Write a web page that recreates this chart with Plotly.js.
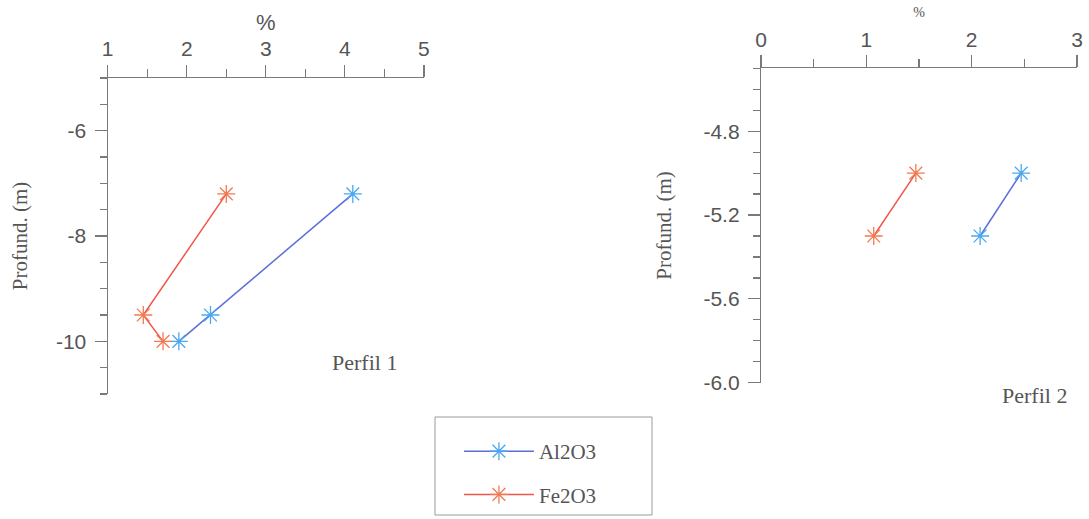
<!DOCTYPE html>
<html>
<head>
<meta charset="utf-8">
<script src="https://cdn.plot.ly/plotly-3.0.1.min.js"></script>
<style>html,body{margin:0;padding:0;background:#fff;}#chart{width:1089px;height:519px;}</style>
</head>
<body>
<div id="chart"></div>
<script>
// Perfil 1
const p1_al2o3_x = [4.1, 2.3, 1.9];
const p1_al2o3_y = [-7.2, -9.5, -10.0];
const p1_fe2o3_x = [2.5, 1.45, 1.7];
const p1_fe2o3_y = [-7.2, -9.5, -10.0];
// Perfil 2
const p2_al2o3_x = [2.47, 2.08];
const p2_al2o3_y = [-5.0, -5.3];
const p2_fe2o3_x = [1.47, 1.07];
const p2_fe2o3_y = [-5.0, -5.3];

const seriesNames = ["Al2O3", "Fe2O3"];
const panelLabels = ["Perfil 1", "Perfil 2"];
const xTitle = "%";
const yTitle = "Profund. (m)";
const p1_yTickVals = [-6, -8, -10];
const p1_yTickText = ["-6", "-8", "-10"];
const p2_yTickVals = [-4.8, -5.2, -5.6, -6.0];
const p2_yTickText = ["-4.8", "-5.2", "-5.6", "-6.0"];

const blueLine = "#5a6fd8", blueMark = "#4aa8f0";
const redLine = "#f0564a", redMark = "#f27a52";
const axisCol = "#7a7a7a", textCol = "#555555";
const sans = "Liberation Sans, Arial, sans-serif";
const serif = "Liberation Serif, Times New Roman, serif";

function tr(x, y, name, lc, mc, xa, ya, show) {
  return {
    x: x, y: y, name: name, type: "scatter", mode: "lines+markers",
    xaxis: xa, yaxis: ya, showlegend: show, legendgroup: name,
    line: {color: lc, width: 1.5},
    marker: {symbol: "asterisk-open", size: 15, color: mc, line: {color: mc, width: 1.3}}
  };
}

const data = [
  tr(p1_al2o3_x, p1_al2o3_y, seriesNames[0], blueLine, blueMark, "x", "y", true),
  tr(p1_fe2o3_x, p1_fe2o3_y, seriesNames[1], redLine, redMark, "x", "y", true),
  tr(p2_al2o3_x, p2_al2o3_y, seriesNames[0], blueLine, blueMark, "x2", "y2", false),
  tr(p2_fe2o3_x, p2_fe2o3_y, seriesNames[1], redLine, redMark, "x2", "y2", false)
];

function xax(domain, anchor, range, titleSize, titleFont, standoff) {
  return {
    domain: domain, anchor: anchor, side: "top", range: range, dtick: 1,
    showline: true, linecolor: axisCol, linewidth: 1.2, showgrid: false, zeroline: false,
    ticks: "outside", ticklen: 12, tickcolor: axisCol, tickwidth: 1.2,
    minor: {dtick: 0.5, ticks: "outside", ticklen: 8, tickcolor: axisCol, tickwidth: 1.2, showgrid: false},
    tickfont: {family: sans, size: 21, color: textCol},
    title: {text: xTitle, font: {family: titleFont, size: titleSize, color: textCol}, standoff: standoff}
  };
}
function yax(domain, anchor, range, tickvals, ticktext, mdtick, standoff) {
  return {
    domain: domain, anchor: anchor, range: range, tickmode: "array", tickvals: tickvals, ticktext: ticktext,
    showline: true, linecolor: axisCol, linewidth: 1.2, showgrid: false, zeroline: false,
    ticks: "outside", ticklen: 12, tickcolor: axisCol, tickwidth: 1.2, ticklabelstandoff: 4,
    minor: {tickmode: "linear", tick0: 0, dtick: mdtick, ticks: "outside", ticklen: 7, tickcolor: axisCol, tickwidth: 1.2, showgrid: false},
    tickfont: {family: sans, size: 21, color: textCol},
    title: {text: yTitle, font: {family: serif, size: 21, color: textCol}, standoff: standoff}
  };
}

const layout = {
  width: 1089, height: 519,
  margin: {l: 0, r: 0, t: 0, b: 0},
  paper_bgcolor: "#ffffff", plot_bgcolor: "#ffffff",
  xaxis: xax([0.0989, 0.3893], "y", [1, 5], 22, sans, 0),
  yaxis: yax([0.2408, 0.8497], "x", [-11, -5], p1_yTickVals, p1_yTickText, 0.5, 22),
  xaxis2: xax([0.6988, 0.989], "y2", [0, 3], 14, serif, 6),
  yaxis2: yax([0.2626, 0.8684], "x2", [-6.0, -4.5], p2_yTickVals, p2_yTickText, 0.1, 26),
  showlegend: true,
  legend: {
    x: 0.3994, y: 0.1696, xanchor: "left", yanchor: "top",
    bgcolor: "rgba(0,0,0,0)", borderwidth: 0,
    font: {family: serif, size: 21, color: textCol},
    itemwidth: 70, tracegroupgap: 13, indentation: 24
  },
  shapes: [
    {type: "rect", xref: "paper", yref: "paper", x0: 435 / 1089, x1: 652 / 1089, y0: 1 - 515 / 519, y1: 1 - 417 / 519,
     line: {color: "#9a9a9a", width: 1}, fillcolor: "rgba(0,0,0,0)", layer: "below"}
  ],
  annotations: [
    {text: panelLabels[0], xref: "paper", yref: "paper", x: 0.3343, y: 0.3025, xanchor: "center", yanchor: "middle",
     showarrow: false, font: {family: serif, size: 22, color: textCol}},
    {text: panelLabels[1], xref: "paper", yref: "paper", x: 0.9504, y: 0.2389, xanchor: "center", yanchor: "middle",
     showarrow: false, font: {family: serif, size: 22, color: textCol}}
  ]
};

Plotly.newPlot("chart", data, layout, {displayModeBar: false, staticPlot: true});
</script>
</body>
</html>
